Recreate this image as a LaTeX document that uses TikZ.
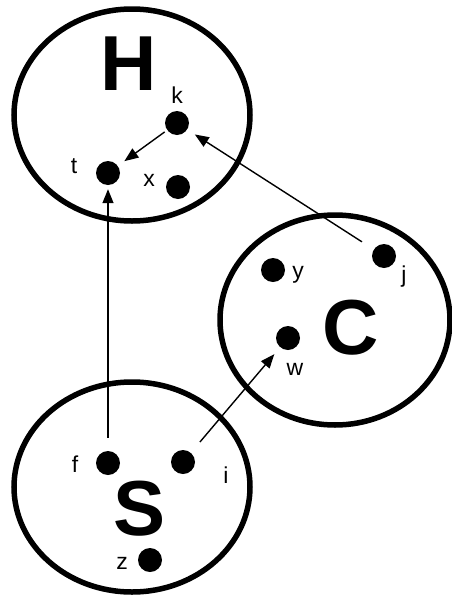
\documentclass[tikz,border=0pt]{standalone}
\usepackage{fontspec}
\setmainfont{Liberation Sans}
\usetikzlibrary{arrows.meta}
\begin{document}
\begin{tikzpicture}[x=1pt,y=-1pt,
  ring/.style={draw=black,line width=5.5pt},
  dotnode/.style={circle,fill=black,inner sep=0pt,minimum size=24pt},
  biglabel/.style={font=\fontsize{78}{78}\selectfont\bfseries,inner sep=0pt},
  smalllabel/.style={font=\fontsize{23}{23}\selectfont,inner sep=0pt},
  link/.style={line width=1.4pt,-{Triangle[length=14pt,width=11pt]}}]
\useasboundingbox (0,0) rectangle (452,595);
% sets
\draw[ring] (132,115) ellipse [x radius=118, y radius=106];
\draw[ring] (335,320) ellipse [x radius=115, y radius=105];
\draw[ring] (132,487) ellipse [x radius=118, y radius=105];
% big letters
\node[biglabel] (H) at (129,64) {H};
\node[biglabel] (C) at (351,328) {C};
\node[biglabel] (S) at (140,509) {S};
% dots
\node[dotnode] (k) at (177,123) {};
\node[dotnode] (t) at (108,173) {};
\node[dotnode] (x) at (178,187) {};
\node[dotnode] (y) at (273,270) {};
\node[dotnode] (j) at (384,256) {};
\node[dotnode] (w) at (288,338) {};
\node[dotnode] (f) at (108,463) {};
\node[dotnode] (i) at (183,462) {};
\node[dotnode] (z) at (150,560) {};
% labels
\node[smalllabel] (kl) at (177,95) {k};
\node[smalllabel] (tl) at (74,166) {t};
\node[smalllabel] (xl) at (149,180) {x};
\node[smalllabel] (yl) at (298,275) {y};
\node[smalllabel] (jl) at (404,277) {j};
\node[smalllabel] (wl) at (295,369) {w};
\node[smalllabel] (fl) at (75,464) {f};
\node[smalllabel] (il) at (226,475) {i};
\node[smalllabel] (zl) at (122,563) {z};
% arrows
\draw[link,shorten <=3pt,shorten >=8pt] (k) -- (t);
\draw[link,shorten <=14pt,shorten >=9pt] (j) -- (k);
\draw[link,shorten <=13pt,shorten >=4pt] (f) -- (t);
\draw[link,shorten <=14pt,shorten >=9pt] (i) -- (w);
\end{tikzpicture}
\end{document}
